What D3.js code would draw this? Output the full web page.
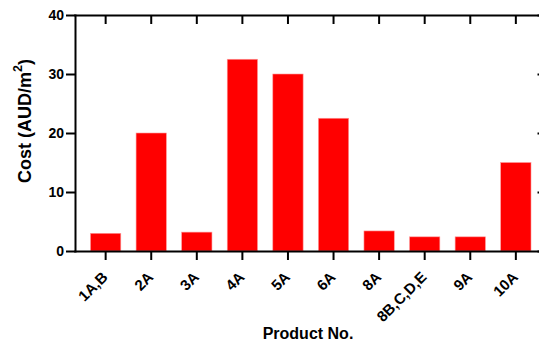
<!DOCTYPE html>
<html>
<head>
<meta charset="utf-8">
<script src="https://cdn.jsdelivr.net/npm/d3@7"></script>
<style>
    body { margin: 0; background: #fff; }
    svg { display: block; font-family: "Liberation Sans", Arial, sans-serif; font-weight: bold; }
</style>
</head>
<body>
<svg id="chart" width="539" height="345"></svg>
<script>
'use strict';

var products = ["1A,B", "2A", "3A", "4A", "5A", "6A", "8A", "8B,C,D,E", "9A", "10A"];
var costs = [3.0, 20.0, 3.2, 32.5, 30.0, 22.5, 3.4, 2.4, 2.4, 15.0];
var yTicks = [0, 10, 20, 30, 40];

var plotLeft = 75, plotRight = 546.5, plotTop = 15, plotBottom = 251;

var svg = d3.select("#chart");

var x = d3.scaleBand()
    .domain(products)
    .range([plotLeft, plotRight])
    .paddingInner(0.335)
    .paddingOuter(0.34);

var y = d3.scaleLinear()
    .domain([0, 40])
    .range([plotBottom, plotTop]);

// bars
svg.append("g")
    .selectAll("rect")
    .data(products)
    .enter()
    .append("rect")
    .attr("x", function (d) { return x(d); })
    .attr("width", x.bandwidth())
    .attr("y", function (d, i) { return y(costs[i]); })
    .attr("height", function (d, i) { return plotBottom - y(costs[i]); })
    .attr("fill", "#ff0000")
    .attr("stroke", "#ff9a9a")
    .attr("stroke-width", 0.6);

function styleAxis(g) {
    g.selectAll("path, line")
        .attr("stroke", "#000")
        .attr("stroke-width", 2);
    g.select("path.domain").attr("stroke-linecap", "square");
}

// y axis, left
var yAxis = svg.append("g")
    .attr("transform", "translate(" + plotLeft + ",0)")
    .call(d3.axisLeft(y).tickValues(yTicks).tickSize(9).tickSizeOuter(0).tickPadding(2));
styleAxis(yAxis);
yAxis.selectAll("text")
    .attr("font-size", "14px")
    .attr("font-family", "Liberation Sans, Arial, sans-serif")
    .attr("font-weight", "bold")
    .attr("fill", "#000");

// right axis, inward ticks, no labels
var yAxisR = svg.append("g")
    .attr("transform", "translate(" + plotRight + ",0)")
    .call(d3.axisLeft(y).tickValues(yTicks).tickSize(9).tickSizeOuter(0).tickFormat(""));
styleAxis(yAxisR);

// top axis, inward ticks
var xAxisTop = svg.append("g")
    .attr("transform", "translate(0," + plotTop + ")")
    .call(d3.axisBottom(x).tickSize(9).tickSizeOuter(0).tickFormat(""));
styleAxis(xAxisTop);

// bottom axis
var xAxis = svg.append("g")
    .attr("transform", "translate(0," + plotBottom + ")")
    .call(d3.axisBottom(x).tickSize(9).tickSizeOuter(0));
styleAxis(xAxis);
xAxis.selectAll("text")
    .attr("font-size", "15px")
    .attr("font-family", "Liberation Sans, Arial, sans-serif")
    .attr("font-weight", "bold")
    .attr("fill", "#000")
    .attr("text-anchor", "end")
    .attr("dy", null)
    .attr("y", null)
    .attr("transform", "translate(3,27) rotate(-45)");

// axis titles
svg.append("text")
    .attr("transform", "translate(31,121) rotate(-90)")
    .attr("text-anchor", "middle")
    .attr("font-size", "18px")
    .attr("fill", "#000")
    .text("Cost (AUD/m")
    .append("tspan")
    .attr("font-size", "12.5px")
    .attr("dy", "-0.7em")
    .text("2")
    .append("tspan")
    .attr("font-size", "18px")
    .attr("dy", "0.49em")
    .text(")");

svg.append("text")
    .attr("x", 308)
    .attr("y", 339)
    .attr("text-anchor", "middle")
    .attr("font-size", "16px")
    .attr("fill", "#000")
    .text("Product No.");
</script>
</body>
</html>
